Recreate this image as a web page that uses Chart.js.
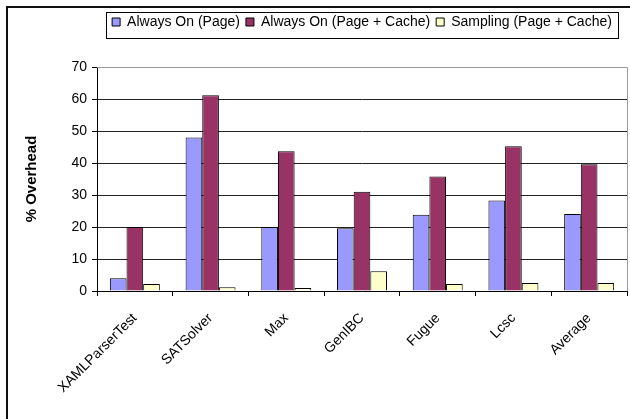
<!DOCTYPE html>
<html>
<head>
<meta charset="utf-8">
<script src="https://cdn.jsdelivr.net/npm/chart.js@4.4.1/dist/chart.umd.min.js"></script>
<style>
  html, body { margin: 0; padding: 0; background: #fff; overflow: hidden; }
  #wrap { position: relative; width: 630px; height: 419px; }
  #frame { position: absolute; left: 6px; top: 6px; width: 700px; height: 500px; border: 2px solid #111; box-sizing: border-box; }
  canvas { position: absolute; left: 0; top: 0; }
</style>
</head>
<body>
<div id="wrap">
  <div id="frame"></div>
  <canvas id="chart" width="630" height="419"></canvas>
</div>
<script>
// Benchmarks and measured overhead (%)
const categories = ['XAMLParserTest', 'SATSolver', 'Max', 'GenIBC', 'Fugue', 'Lcsc', 'Average'];
const alwaysOnPage = [4, 48, 20, 19.6, 23.8, 28.3, 24.1];
const alwaysOnPageCache = [20, 61.2, 43.7, 31, 35.8, 45.2, 39.6];
const samplingPageCache = [2.2, 1.2, 0.9, 6.2, 2.2, 2.5, 2.5];
const yTicks = [0, 10, 20, 30, 40, 50, 60, 70];

const FONT = "'Liberation Sans', Arial, sans-serif";

// Extra space between the legend and the plot
const legendGap = {
  id: 'legendGap',
  beforeInit(chart) {
    const fit = chart.legend.fit;
    chart.legend.fit = function () {
      fit.bind(chart.legend)();
      this.height += 28;
    };
  }
};

// Boxed legend outline
const legendBox = {
  id: 'legendBox',
  afterDraw(chart) {
    const lg = chart.legend;
    if (!lg || !lg.legendHitBoxes || !lg.legendHitBoxes.length) return;
    const boxes = lg.legendHitBoxes;
    const left = Math.min(...boxes.map(b => b.left)) - 6;
    const right = Math.max(...boxes.map(b => b.left + b.width)) + 6;
    const top = boxes[0].top - 3;
    const bottom = boxes[0].top + boxes[0].height + 9;
    const ctx = chart.ctx;
    ctx.save();
    ctx.strokeStyle = '#000';
    ctx.lineWidth = 1;
    ctx.strokeRect(Math.round(left) + 0.5, Math.round(top) + 0.5, Math.round(right - left), Math.round(bottom - top));
    ctx.restore();
  }
};

// Gray top and right edges of the plot area
const plotFrame = {
  id: 'plotFrame',
  beforeDatasetsDraw(chart) {
    const a = chart.chartArea;
    const ctx = chart.ctx;
    ctx.save();
    ctx.strokeStyle = '#9a9a9a';
    ctx.lineWidth = 1;
    ctx.beginPath();
    ctx.moveTo(Math.round(a.left), Math.round(a.top) + 0.5);
    ctx.lineTo(Math.round(a.right) + 0.5, Math.round(a.top) + 0.5);
    ctx.lineTo(Math.round(a.right) + 0.5, Math.round(a.bottom));
    ctx.stroke();
    ctx.restore();
  }
};

new Chart(document.getElementById('chart'), {
  type: 'bar',
  data: {
    labels: categories,
    datasets: [
      { label: 'Always On (Page)', data: alwaysOnPage, backgroundColor: '#9999FF', borderColor: '#000', borderWidth: 1 },
      { label: 'Always On (Page + Cache)', data: alwaysOnPageCache, backgroundColor: '#993366', borderColor: '#000', borderWidth: 1 },
      { label: 'Sampling (Page + Cache)', data: samplingPageCache, backgroundColor: '#FFFFCC', borderColor: '#000', borderWidth: 1 }
    ]
  },
  options: {
    responsive: false,
    animation: false,
    devicePixelRatio: 1,
    layout: { padding: { top: 9, right: 3, left: 0, bottom: 0 } },
    datasets: { bar: { categoryPercentage: 0.66, barPercentage: 1 } },
    plugins: {
      legend: {
        position: 'top',
        fullSize: false,
        labels: {
          color: '#000',
          font: { family: FONT, size: 14 },
          boxWidth: 8,
          boxHeight: 8,
          padding: 6
        }
      },
      tooltip: { enabled: false }
    },
    scales: {
      x: {
        grid: { offset: true, drawOnChartArea: false, drawTicks: true, tickLength: 5, color: '#000' },
        border: { color: '#000', width: 1 },
        ticks: {
          color: '#000',
          font: { family: FONT, size: 14 },
          maxRotation: 45,
          minRotation: 45,
          autoSkip: false,
          padding: 14
        },
        afterFit(scale) { scale.height = 128; }
      },
      y: {
        min: 0,
        max: 70,
        afterBuildTicks(scale) { scale.ticks = yTicks.map(v => ({ value: v })); },
        grid: {
          color: ctx => (ctx.tick && ctx.tick.value === 70 ? '#9a9a9a' : '#222'),
          tickColor: '#000',
          tickLength: 5,
          lineWidth: 1
        },
        border: { color: '#000', width: 1 },
        ticks: {
          color: '#000',
          font: { family: FONT, size: 14 },
          padding: 5
        },
        title: {
          display: true,
          text: '% Overhead',
          color: '#000',
          font: { family: FONT, size: 15, weight: 'bold' },
          padding: { top: 23, bottom: 0 }
        },
        afterFit(scale) { scale.width = 97; }
      }
    }
  },
  plugins: [legendGap, legendBox, plotFrame]
});
</script>
</body>
</html>
